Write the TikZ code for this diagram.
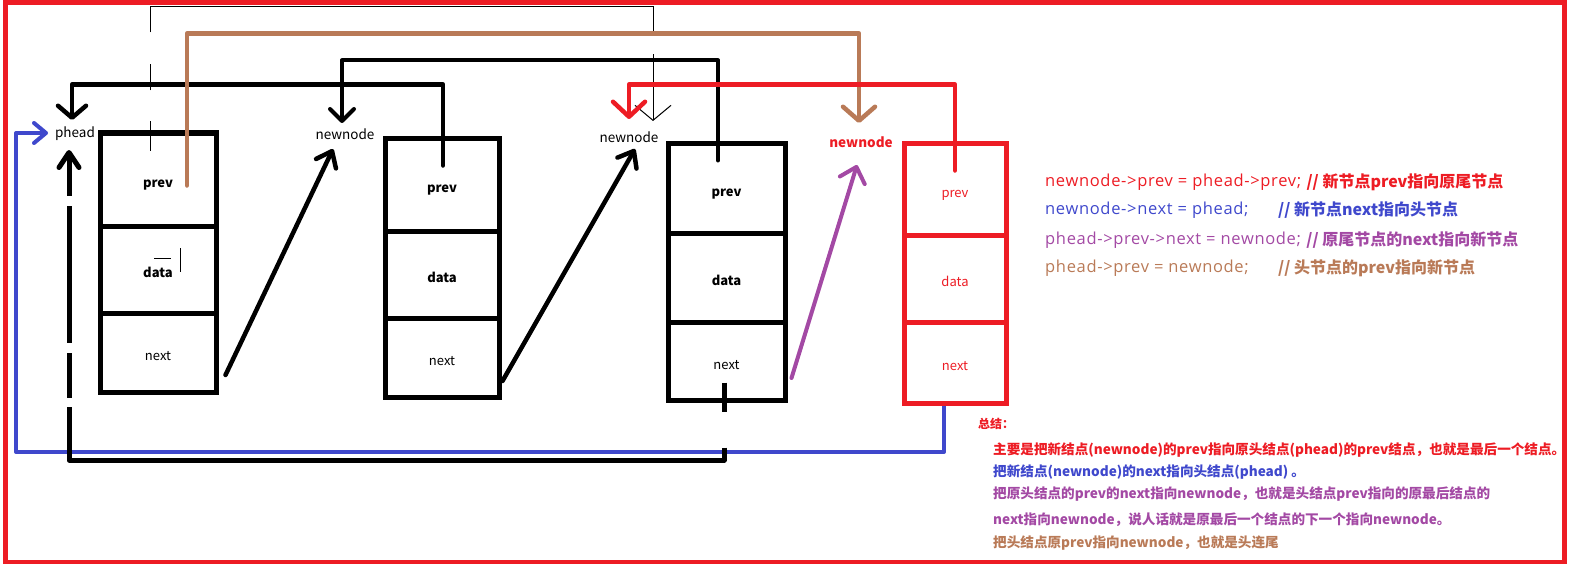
\documentclass[tikz,border=0pt]{standalone}
\usepackage{fontspec}
\setmainfont{Noto Sans CJK SC}
\newfontfamily\codefont{Open Sans}[LetterSpace=4]
\usetikzlibrary{arrows.meta, calc}

\definecolor{framered}{RGB}{237,28,36}
\definecolor{linkblue}{RGB}{63,72,204}
\definecolor{linkpurple}{RGB}{163,73,164}
\definecolor{linkbrown}{RGB}{185,122,87}

\tikzset{
    cell/.style={draw, line width=5pt, inner sep=0pt, text height=16pt, text depth=0pt,
                 font=\fontsize{13}{15}\selectfont},
    ptrname/.style={inner sep=1pt, font=\fontsize{13.5}{15}\selectfont},
    link/.style={line width=4.5pt, line cap=round, line join=round},
    code/.style={anchor=west, inner sep=0pt, font=\codefont\fontsize{16.5}{18}\selectfont},
    comment/.style={anchor=west, inner sep=0pt, font=\fontsize{16}{18}\selectfont\bfseries},
    note/.style={anchor=west, inner sep=0pt, font=\fontsize{13.6}{15}\selectfont\bfseries},
}

\begin{document}
\begin{tikzpicture}[x=1pt, y=-1pt]
    \useasboundingbox (0,0) rectangle (1573,567);

    % 1. Outer frame
    \draw[framered, line width=4.5pt] (5.5,2.3) rectangle (1564.5,562);

    % 2. The four list nodes (prev / data / next)
    \foreach \i/\cx/\w/\ya/\yb/\yc/\yd/\col/\wt in {
        1/158/116/133/226/313/392/black/\bfseries,
        2/442/114/138/231/318/397/black/\bfseries,
        3/726.5/117/143/233/322/400/black/\bfseries,
        4/955/102/143/235/322/403/framered/\mdseries} {
        \node[cell, draw=\col, text=\col, minimum width=\w pt, minimum height={(\yb-\ya)*1pt}]
            (prev\i) at (\cx, {(\ya+\yb)/2}) {\wt prev};
        \node[cell, draw=\col, text=\col, minimum width=\w pt, minimum height={(\yc-\yb)*1pt}]
            (data\i) at (\cx, {(\yb+\yc)/2}) {\wt data};
        \node[cell, draw=\col, text=\col, minimum width=\w pt, minimum height={(\yd-\yc)*1pt}]
            (next\i) at (\cx, {(\yc+\yd)/2}) {next};
    }

    % stray marks inside the first data cell
    \draw[line width=1pt] (154,258) -- (171,258);
    \draw[line width=1pt] (180,248) -- (180,272);

    % 3. Pointer names
    \node[ptrname] (phead) at (75,134) {phead};
    \node[ptrname] (newA) at (345,134) {newnode};
    \node[ptrname] (newB) at (629,137) {newnode};
    \node[ptrname, text=framered, font=\fontsize{13.5}{15}\selectfont\bfseries] (newC) at (861,142) {newnode};

    % arrow tips next to the names
    \coordinate (tipA) at (72,120);
    \coordinate (tipB) at (342,123);
    \coordinate (tipC) at (653,121);
    \coordinate (tipD) at (859,123);
    \coordinate (tipE) at (629,119);
    \coordinate (tipF) at (333,149);
    \coordinate (tipG) at (635,149);
    \coordinate (tipH) at (857,165);
    \coordinate (tipI) at (48,133);
    \coordinate (tipJ) at (69,150);

    % 4. Links
    % prev pointers running over the top
    \draw[link, -{Straight Barb[length=12pt, width=28pt, round]}]
        ($(prev2.north)+(1,30)$) -- ++(0,-81) -| (tipA);
    \draw[link, line width=4pt, -{Straight Barb[length=12pt, width=24pt, round]}]
        ($(prev3.north)+(-8.5,20)$) -- ++(0,-100) -| (tipB);
    \draw[line width=1pt, dash pattern=on 29pt off 31pt on 26pt off 32pt on 557pt off 20pt on 100pt,
          -{Straight Barb[length=15pt, width=36pt]}]
        ($(prev1.north)+(-8,20)$) -- ++(0,-144) -| (tipC);
    \draw[link, linkbrown, -{Straight Barb[length=14pt, width=32pt, round]}]
        ($(prev1.north)+(29,55)$) -- ++(0,-152) -| (tipD);
    \draw[link, framered, -{Straight Barb[length=15pt, width=32pt, round]}]
        ($(prev4.north)+(0,30)$) -- ++(0,-86) -| (tipE);

    % next pointers to the following node
    \draw[link, -{Straight Barb[length=14pt, width=22pt, round]}]
        ($(next1.east)+(7,22.5)$) -- (tipF);
    \draw[link, -{Straight Barb[length=14pt, width=22pt, round]}]
        ($(next2.east)+(1,23.5)$) -- (tipG);
    \draw[link, linkpurple, line width=4pt, -{Straight Barb[length=14pt, width=26pt, round]}]
        ($(next3.east)+(4,17)$) -- (tipH);

    % new tail back to the head, round the bottom
    \draw[link, linkblue, line width=4pt, line cap=butt, -{Straight Barb[length=12pt, width=20pt, round]}]
        ($(next4.south)+(-11,0)$) |- (16,452) |- (tipI);
    \draw[line width=5pt, line join=round,
          dash pattern=on 29pt off 36pt on 721pt off 9pt on 45pt off 10pt on 137pt off 10pt on 60pt,
          -{Straight Barb[length=15pt, width=20pt, round]}]
        ($(next3.south)+(-2.5,-20)$) |- (69,460) -- (tipJ);

    % 5. Code and comments
    \node[code, text=framered] (codeA) at (1045,182) {newnode->prev = phead->prev;};
    \node[comment, text=framered] (noteA) at ([xshift=5pt]codeA.east) {// 新节点prev指向原尾节点};
    \node[code, text=linkblue] (codeB) at (1045,210) {newnode->next = phead;};
    \node[comment, text=linkblue] (noteB) at (1278,210) {// 新节点next指向头节点};
    \node[code, text=linkpurple] (codeC) at (1045,240) {phead->prev->next = newnode;};
    \node[comment, text=linkpurple] (noteC) at ([xshift=5pt]codeC.east) {// 原尾节点的next指向新节点};
    \node[code, text=linkbrown] (codeD) at (1045,268) {phead->prev = newnode;};
    \node[comment, text=linkbrown] (noteD) at (1278,268) {// 头节点的prev指向新节点};

    % 6. Summary
    \node[note, text=framered, font=\fontsize{12}{14}\selectfont\bfseries] (sumHead) at (978,424) {总结：};
    \node[note, text=framered] (sumA) at (993,450) {主要是把新结点(newnode)的prev指向原头结点(phead)的prev结点，也就是最后一个结点。};
    \node[note, text=linkblue] (sumB) at (993,472) {把新结点(newnode)的next指向头结点(phead) 。};
    \node[note, text=linkpurple] (sumC) at (993,494) {把原头结点的prev的next指向newnode，也就是头结点prev指向的原最后结点的};
    \node[note, text=linkpurple] (sumD) at (993,520) {next指向newnode，说人话就是原最后一个结点的下一个指向newnode。};
    \node[note, text=linkbrown] (sumE) at (993,543) {把头结点原prev指向newnode，也就是头连尾};
\end{tikzpicture}
\end{document}
